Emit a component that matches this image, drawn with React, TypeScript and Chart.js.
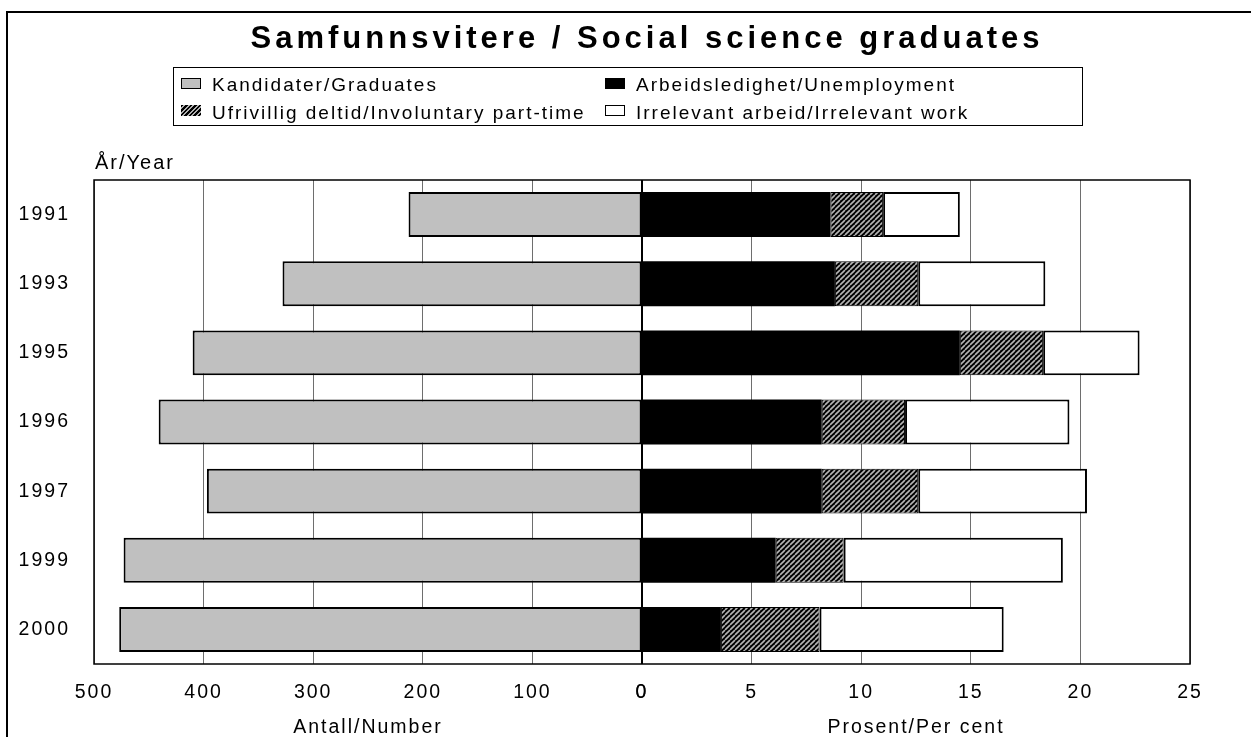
import React, { useEffect, useRef } from 'react';
import { Chart, registerables } from 'chart.js';

Chart.register(...registerables);

const years = ['1991', '1993', '1995', '1996', '1997', '1999', '2000'];
const graduates = [213, 328, 410, 441, 397, 473, 477];
const unemployment = [8.6, 8.8, 14.5, 8.2, 8.2, 6.1, 3.6];
const involuntaryPartTime = [2.4, 3.8, 3.8, 3.8, 4.4, 3.1, 4.5];
const irrelevantWork = [3.5, 5.8, 4.4, 7.5, 7.7, 10.0, 8.4];

const numberAxis = { min: 0, max: 500, step: 100 };
const percentAxis = { min: 0, max: 25, step: 5 };

const titleText = 'Samfunnsvitere / Social science graduates';
const legendLabels = [
  'Kandidater/Graduates',
  'Arbeidsledighet/Unemployment',
  'Ufrivillig deltid/Involuntary part-time',
  'Irrelevant arbeid/Irrelevant work',
];
const yearAxisTitle = 'År/Year';
const numberAxisTitle = 'Antall/Number';
const percentAxisTitle = 'Prosent/Per cent';

const FONT = "'Liberation Sans', Arial, Helvetica, sans-serif";
const HATCH_CSS = 'repeating-linear-gradient(135deg, #000 0px, #000 2px, #b0b0b0 2px, #b0b0b0 3.2px)';

const spacingPlugin = {
  id: 'spacing',
  afterInit(chart: any) { chart.ctx.letterSpacing = '2px'; },
  beforeUpdate(chart: any) { chart.ctx.letterSpacing = '2px'; },
  beforeDraw(chart: any) { chart.ctx.letterSpacing = '2px'; },
};

const framePlugin = {
  id: 'frame',
  afterDatasetsDraw(chart: any) {
    const { ctx, chartArea: a } = chart;
    const mid = chart.scales.xR.getPixelForValue(0);
    ctx.save();
    ctx.strokeStyle = '#000';
    ctx.lineWidth = 1.5;
    ctx.strokeRect(a.left, a.top, a.right - a.left, a.bottom - a.top);
    ctx.lineWidth = 2;
    ctx.beginPath();
    ctx.moveTo(mid, a.top);
    ctx.lineTo(mid, a.bottom);
    ctx.stroke();
    ctx.restore();
  },
};

function App() {
  const canvasRef = useRef<HTMLCanvasElement | null>(null);

  useEffect(() => {
    const canvas = canvasRef.current;
    if (!canvas) return;
    const ctx = canvas.getContext('2d')!;
    const tile = document.createElement('canvas');
    tile.width = 5;
    tile.height = 5;
    const tg = tile.getContext('2d')!;
    tg.fillStyle = '#000';
    tg.fillRect(0, 0, 5, 5);
    tg.strokeStyle = '#b4b4b4';
    tg.lineWidth = 1.6;
    tg.beginPath();
    for (const o of [-5, 0, 5]) {
      tg.moveTo(o, 5);
      tg.lineTo(o + 5, 0);
    }
    tg.stroke();
    const hatch = ctx.createPattern(tile, 'repeat');

    const tickFont = { family: FONT, size: 19.5 };
    const gridColor = (c: any) => (c.tick && c.tick.value === 0 ? '#000' : '#6e6e6e');

    const chart = new Chart(canvas, {
      type: 'bar',
      data: {
        labels: years,
        datasets: [
          {
            label: legendLabels[0],
            data: graduates,
            xAxisID: 'xL',
            yAxisID: 'y',
            backgroundColor: '#c0c0c0',
            borderColor: '#000',
            borderWidth: 2,
            borderSkipped: false,
          },
          {
            label: legendLabels[1],
            data: unemployment,
            xAxisID: 'xR',
            yAxisID: 'y',
            backgroundColor: '#000',
            borderColor: '#000',
            borderWidth: 0,
          },
          {
            label: legendLabels[2],
            data: involuntaryPartTime,
            xAxisID: 'xR',
            yAxisID: 'y',
            backgroundColor: hatch as any,
            borderColor: '#000',
            borderWidth: 1,
            borderSkipped: false,
          },
          {
            label: legendLabels[3],
            data: irrelevantWork,
            xAxisID: 'xR',
            yAxisID: 'y',
            backgroundColor: '#fff',
            borderColor: '#000',
            borderWidth: 2,
            borderSkipped: false,
          },
        ],
      },
      options: {
        animation: false,
        responsive: false,
        indexAxis: 'y',
        layout: { padding: { top: 180, right: 61, left: 0, bottom: 0 } },
        datasets: { bar: { grouped: false, barPercentage: 0.65, categoryPercentage: 1 } },
        plugins: {
          legend: { display: false },
          title: { display: false },
          tooltip: { enabled: false },
        },
        scales: {
          y: {
            type: 'category',
            position: 'left',
            grid: { display: false, drawTicks: false },
            border: { display: false },
            ticks: { padding: 24, color: '#000', font: tickFont },
            afterFit: (s: any) => { s.width = 94; },
          },
          xL: {
            type: 'linear',
            axis: 'x',
            position: 'bottom',
            stack: 'xs',
            stackWeight: 1,
            reverse: true,
            min: numberAxis.min,
            max: numberAxis.max,
            ticks: {
              stepSize: numberAxis.step,
              autoSkip: false,
              maxRotation: 0,
              padding: 17,
              color: '#000',
              font: tickFont,
            },
            grid: { color: gridColor, lineWidth: 1, drawTicks: false },
            border: { display: false },
            title: {
              display: true,
              text: numberAxisTitle,
              color: '#000',
              font: { family: FONT, size: 19.5, lineHeight: 1 },
              padding: 0,
            },
            afterFit: (s: any) => { s.height = 73; },
          },
          xR: {
            type: 'linear',
            axis: 'x',
            position: 'bottom',
            stack: 'xs',
            stackWeight: 1,
            stacked: true,
            min: percentAxis.min,
            max: percentAxis.max,
            ticks: {
              stepSize: percentAxis.step,
              autoSkip: false,
              maxRotation: 0,
              padding: 17,
              color: '#000',
              font: tickFont,
            },
            grid: { color: gridColor, lineWidth: 1, drawTicks: false },
            border: { display: false },
            title: {
              display: true,
              text: percentAxisTitle,
              color: '#000',
              font: { family: FONT, size: 19.5, lineHeight: 1 },
              padding: 0,
            },
            afterFit: (s: any) => { s.height = 73; },
          },
        },
      } as any,
      plugins: [spacingPlugin, framePlugin],
    });
    return () => chart.destroy();
  }, []);

  const legendText: React.CSSProperties = {
    position: 'absolute',
    fontSize: 19,
    lineHeight: '19px',
    letterSpacing: '2px',
    whiteSpace: 'nowrap',
    color: '#000',
  };
  const sw = (left: number, top: number, bg: string, border: boolean): React.CSSProperties => ({
    position: 'absolute',
    left,
    top,
    width: 20,
    height: 11,
    boxSizing: 'border-box',
    background: bg,
    border: border ? '1.5px solid #000' : 'none',
  });

  const row1 = 91;
  const row2 = 118.5;

  return (
    <div
      style={{
        position: 'absolute',
        left: 0,
        top: 0,
        width: 1251,
        height: 737,
        overflow: 'hidden',
        background: '#fff',
        fontFamily: FONT,
      }}
    >
      <div
        style={{
          position: 'absolute',
          left: 6,
          top: 11,
          width: 1400,
          height: 900,
          border: '2px solid #000',
        }}
      />
      <canvas
        ref={canvasRef}
        width={1251}
        height={737}
        style={{ position: 'absolute', left: 0, top: 0, width: 1251, height: 737 }}
      />
      <div
        style={{
          position: 'absolute',
          left: 0,
          top: 22,
          width: 1294,
          textAlign: 'center',
          fontSize: 31,
          lineHeight: '31px',
          fontWeight: 'bold',
          letterSpacing: '4px',
          whiteSpace: 'nowrap',
          color: '#000',
        }}
      >
        {titleText}
      </div>
      <div
        style={{
          position: 'absolute',
          left: 173,
          top: 67,
          width: 910,
          height: 59,
          boxSizing: 'border-box',
          border: '1.5px solid #000',
        }}
      />
      <div style={sw(181, row1 - 13.5, '#c0c0c0', true)} />
      <div style={{ ...legendText, left: 212, top: row1 - 16 }}>{legendLabels[0]}</div>
      <div style={sw(605, row1 - 13.5, '#000', false)} />
      <div style={{ ...legendText, left: 636, top: row1 - 16 }}>{legendLabels[1]}</div>
      <div style={sw(181, row2 - 13.5, HATCH_CSS, false)} />
      <div style={{ ...legendText, left: 212, top: row2 - 16 }}>{legendLabels[2]}</div>
      <div style={sw(605, row2 - 13.5, '#fff', true)} />
      <div style={{ ...legendText, left: 636, top: row2 - 16 }}>{legendLabels[3]}</div>
      <div
        style={{
          position: 'absolute',
          left: 95,
          top: 152,
          fontSize: 20,
          lineHeight: '20px',
          letterSpacing: '2px',
          whiteSpace: 'nowrap',
          color: '#000',
        }}
      >
        {yearAxisTitle}
      </div>
    </div>
  );
}

export default App;
